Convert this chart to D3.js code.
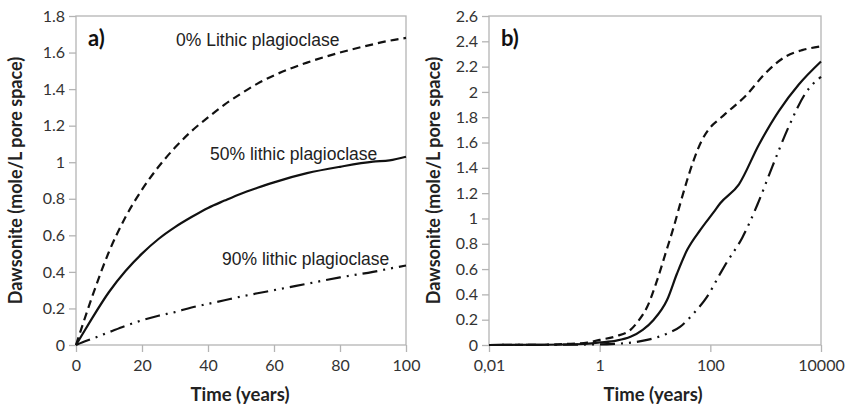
<!DOCTYPE html>
<html>
<head>
<meta charset="utf-8">
<script src="https://cdn.jsdelivr.net/npm/d3@7"></script>
<style>
  html, body { margin: 0; padding: 0; background: #fff; }
  svg { display: block; }
</style>
</head>
<body>
<svg id="chart" width="850" height="410"></svg>
<script>
// ---- Panel a: linear time, first 100 years ----
const timeA = [0, 2, 5, 10, 15, 20, 25, 30, 35, 40, 45, 50, 55, 60, 70, 80, 90, 95, 100];
const lithic0A  = [0, 0.11, 0.27, 0.51, 0.70, 0.85, 0.975, 1.08, 1.17, 1.245, 1.315, 1.375, 1.43, 1.475, 1.545, 1.60, 1.645, 1.665, 1.68];
const lithic50A = [0, 0.06, 0.15, 0.29, 0.405, 0.50, 0.58, 0.645, 0.70, 0.75, 0.79, 0.828, 0.86, 0.89, 0.94, 0.975, 1.003, 1.01, 1.03];
const lithic90A = [0, 0.015, 0.035, 0.07, 0.105, 0.135, 0.16, 0.18, 0.205, 0.225, 0.245, 0.265, 0.283, 0.30, 0.335, 0.37, 0.40, 0.418, 0.435];

// ---- Panel b: logarithmic time, up to 10000 years ----
const timeB0  = [0.01, 0.1, 0.3, 0.6, 1, 2, 3.6, 5, 7.2, 10.9, 15.4, 21.7, 28.7, 37.9, 50, 70.7, 100, 141, 190, 437, 1000, 2300, 4550, 10000];
const lithic0B = [0, 0.002, 0.01, 0.02, 0.04, 0.07, 0.12, 0.19, 0.30, 0.51, 0.72, 0.93, 1.12, 1.30, 1.46, 1.62, 1.72, 1.78, 1.83, 1.97, 2.15, 2.28, 2.33, 2.36];
const timeB50  = [0.01, 0.1, 0.5, 1, 2, 3.6, 6, 9.5, 16.5, 25, 38, 66, 115, 151, 329, 758, 1740, 4000, 10000];
const lithic50B = [0, 0.002, 0.008, 0.02, 0.035, 0.065, 0.12, 0.20, 0.355, 0.565, 0.75, 0.91, 1.05, 1.12, 1.27, 1.585, 1.85, 2.06, 2.24];
const timeB90  = [0.01, 1, 2, 4, 7.2, 16.5, 28.7, 50, 87, 151, 190, 380, 710, 1320, 2640, 5250, 10000];
const lithic90B = [0, 0.005, 0.01, 0.02, 0.04, 0.09, 0.145, 0.25, 0.38, 0.565, 0.64, 0.85, 1.11, 1.41, 1.73, 1.99, 2.12];

// ---- Tick values and labels ----
const xTicksA = [0, 20, 40, 60, 80, 100];
const xTickLabelsA = ["0", "20", "40", "60", "80", "100"];
const yTicksA = [0, 0.2, 0.4, 0.6, 0.8, 1, 1.2, 1.4, 1.6, 1.8];
const yTickLabelsA = ["0", "0.2", "0.4", "0.6", "0.8", "1", "1.2", "1.4", "1.6", "1.8"];
const xTicksB = [0.01, 1, 100, 10000];
const xTickLabelsB = ["0,01", "1", "100", "10000"];
const yTicksB = [0, 0.2, 0.4, 0.6, 0.8, 1, 1.2, 1.4, 1.6, 1.8, 2, 2.2, 2.4, 2.6];
const yTickLabelsB = ["0", "0.2", "0.4", "0.6", "0.8", "1", "1.2", "1.4", "1.6", "1.8", "2", "2.2", "2.4", "2.6"];

const seriesNames = ["0% Lithic plagioclase", "50% lithic plagioclase", "90% lithic plagioclase"];
const yTitle = "Dawsonite (mole/L pore space)";
const xTitle = "Time (years)";

// ---- Styles ----
const dashStyles = ["8,5", null, "15,6,2,6,2,6"];
const frameColor = "#b4b4b4";
const tickTextColor = "#333333";
const tickFont = "Lato, 'Open Sans', sans-serif";
const labelFont = "'Liberation Sans', Arial, sans-serif";

const svg = d3.select("#chart");

function drawPanel(opts) {
  const { x, y, xTicks, xLabels, yTicks, yLabels, series, tag, titleX, yTitleX } = opts;
  const g = svg.append("g");
  const [x0, x1] = x.range();
  const [y0, y1] = y.range();

  // Frame around the plotting area
  g.append("rect")
    .attr("x", x0).attr("y", y1)
    .attr("width", x1 - x0).attr("height", y0 - y1)
    .attr("fill", "none").attr("stroke", frameColor).attr("stroke-width", 1.3);

  // Axes (ticks + labels); domain lines come from the frame
  const xAxis = d3.axisBottom(x).tickValues(xTicks)
    .tickFormat((d, i) => xLabels[i]).tickSize(7).tickSizeOuter(0).tickPadding(8);
  const yAxis = d3.axisLeft(y).tickValues(yTicks)
    .tickFormat((d, i) => yLabels[i]).tickSize(7).tickSizeOuter(0).tickPadding(4);

  const gx = g.append("g").attr("transform", `translate(0,${y0})`).call(xAxis);
  const gy = g.append("g").attr("transform", `translate(${x0},0)`).call(yAxis);
  [gx, gy].forEach(a => {
    a.select(".domain").remove();
    a.selectAll(".tick line").attr("stroke", frameColor).attr("stroke-width", 1.3);
    a.selectAll(".tick text").attr("fill", tickTextColor)
      .style("font-family", tickFont).style("font-size", "16px");
  });

  // Curves
  const clipId = "clip-" + tag.replace(/\W/g, "");
  g.append("clipPath").attr("id", clipId).append("rect")
    .attr("x", x0 - 2).attr("y", y1 - 2).attr("width", x1 - x0 + 4).attr("height", y0 - y1 + 4);
  series.forEach((s, i) => {
    const pts = s.t.map((t, k) => [t, s.v[k]]);
    const line = d3.line().x(d => x(d[0])).y(d => y(d[1])).curve(d3.curveMonotoneX);
    g.append("path")
      .attr("d", line(pts))
      .attr("clip-path", `url(#${clipId})`)
      .attr("fill", "none").attr("stroke", "#111")
      .attr("stroke-width", 2.2)
      .attr("stroke-dasharray", dashStyles[i])
      .attr("stroke-linejoin", "round");
  });

  // Panel tag
  g.append("text").attr("x", x0 + 12).attr("y", y1 + 30)
    .text(tag).attr("fill", "#111")
    .style("font-family", tickFont).style("font-weight", "bold").style("font-size", "22px");

  // Axis titles
  g.append("text").attr("x", titleX).attr("y", 401).attr("text-anchor", "middle")
    .text(xTitle).attr("fill", "#222")
    .style("font-family", tickFont).style("font-weight", "bold").style("font-size", "18.5px");
  g.append("text")
    .attr("transform", `translate(${yTitleX},${(y0 + y1) / 2}) rotate(-90)`)
    .attr("text-anchor", "middle")
    .text(yTitle).attr("fill", "#222")
    .style("font-family", tickFont).style("font-weight", "bold").style("font-size", "18px");
  return g;
}

// Panel a
const xA = d3.scaleLinear().domain([0, 100]).range([76, 406]);
const yA = d3.scaleLinear().domain([0, 1.8]).range([345, 16]);
const gA = drawPanel({
  x: xA, y: yA, xTicks: xTicksA, xLabels: xTickLabelsA, yTicks: yTicksA, yLabels: yTickLabelsA,
  series: [
    { t: timeA, v: lithic0A },
    { t: timeA, v: lithic50A },
    { t: timeA, v: lithic90A }
  ],
  tag: "a)", titleX: 240, yTitleX: 22
});

// Series labels in panel a
const seriesLabelPos = [[176, 46], [210, 160], [222, 265]];
seriesNames.forEach((name, i) => {
  gA.append("text").attr("x", seriesLabelPos[i][0]).attr("y", seriesLabelPos[i][1])
    .text(name).attr("fill", "#222")
    .style("font-family", labelFont).style("font-size", "17.5px");
});

// Panel b
const xB = d3.scaleLog().domain([0.01, 10000]).range([489, 821]);
const yB = d3.scaleLinear().domain([0, 2.6]).range([345, 16]);
drawPanel({
  x: xB, y: yB, xTicks: xTicksB, xLabels: xTickLabelsB, yTicks: yTicksB, yLabels: yTickLabelsB,
  series: [
    { t: timeB0, v: lithic0B },
    { t: timeB50, v: lithic50B },
    { t: timeB90, v: lithic90B }
  ],
  tag: "b)", titleX: 653, yTitleX: 440
});
</script>
</body>
</html>
